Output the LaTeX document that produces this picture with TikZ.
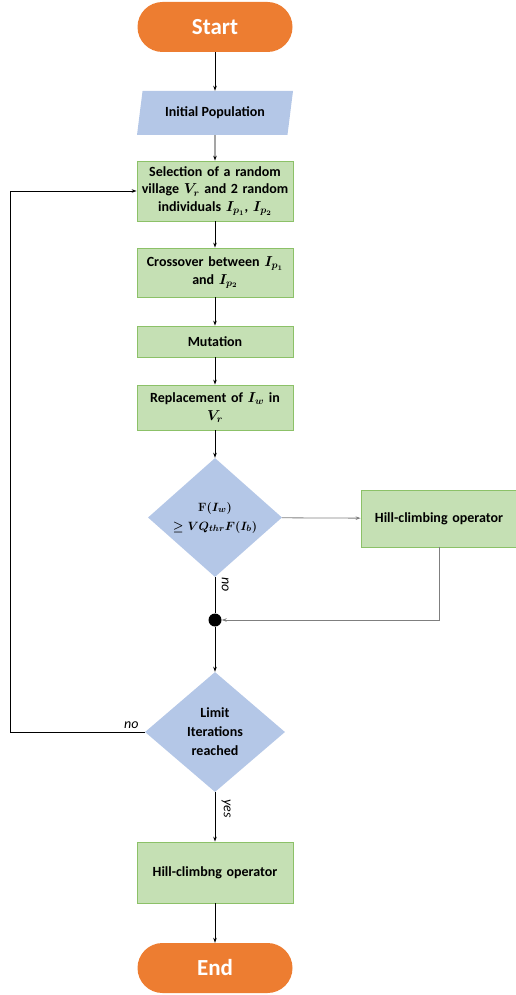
\documentclass[tikz,border=0pt]{standalone}
\usepackage{fontspec}
\setmainfont{Carlito}
\usepackage{amsmath}
\usetikzlibrary{shapes.geometric,arrows.meta}
\definecolor{orng}{HTML}{ED7D31}
\definecolor{blu}{HTML}{B4C7E7}
\definecolor{grn}{HTML}{C5E0B4}
\definecolor{grnb}{HTML}{8CC168}
\definecolor{lgray}{HTML}{7F7F7F}
\begin{document}
\begin{tikzpicture}[x=1pt,y=-1pt,
  term/.style={rectangle, rounded corners=25pt, fill=orng, text=white, minimum width=155pt, minimum height=50pt, font=\bfseries\fontsize{23}{26}\selectfont},
  io/.style={trapezium, trapezium left angle=73.5, trapezium right angle=106.5, trapezium stretches body, fill=blu, minimum width=156pt, minimum height=44pt, font=\bfseries\fontsize{14}{17}\selectfont},
  proc/.style={rectangle, fill=grn, draw=grnb, line width=0.8pt, minimum width=156pt, text width=154pt, align=center, inner sep=1pt, font=\bfseries\boldmath\fontsize{14}{17.5}\selectfont},
  dec/.style={diamond, fill=blu, inner sep=0pt, align=center, font=\bfseries\boldmath\fontsize{14}{19}\selectfont},
  arr/.style={draw=black, line width=0.8pt, -{Stealth[length=5pt,width=3.5pt]}},
  lab/.style={font=\itshape\fontsize{14}{17}\selectfont}
]
\useasboundingbox (0,0) rectangle (516,995);
\node[term] (start) at (215,27) {Start};
\node[io] (init) at (215,113) {Initial Population};
\node[proc, minimum height=60pt] (sel) at (215,191) {Selection of a random\\village $V_r$ and 2 random\\individuals $I_{p_1}$, $I_{p_2}$};
\node[proc, minimum height=49pt] (cross) at (215,272.5) {Crossover between $I_{p_1}$\\and $I_{p_2}$};
\node[proc, minimum height=31pt] (mut) at (215,341.5) {Mutation};
\node[proc, minimum height=45pt] (repl) at (215,407.5) {Replacement of $I_w$ in\\$V_r$};
\node[dec, shape aspect=1.126, minimum width=134pt, minimum height=119pt, font=\bfseries\boldmath\fontsize{13}{19}\selectfont] (d1) at (215,517.5) {$\mathbf{F}(I_w)$\\$\geq VQ_{thr}F(I_b)$};
\node[proc, minimum width=154pt, minimum height=57pt] (hc1) at (439,518.5) {Hill-climbing operator};
\node[circle, fill=black, minimum size=13pt, inner sep=0pt] (dot) at (215,620) {};
\node[dec, shape aspect=1.167, minimum width=140pt, minimum height=120pt] (d2) at (215,732) {Limit\\Iterations\\reached};
\node[proc, minimum height=61pt] (hc2) at (215,872.5) {Hill-climbng operator};
\node[term] (end) at (215,968) {End};
\coordinate (lb) at (10,732);

\draw[arr] (start) -- (init);
\draw[arr] (init) -- (sel);
\draw[arr] (sel) -- (cross);
\draw[arr] (cross) -- (mut);
\draw[arr] (mut) -- (repl);
\draw[arr] (repl) -- (d1);
\draw[arr, draw=lgray] (d1) -- (hc1);
\draw[line width=0.8pt] (d1) -- node[lab, rotate=-90, anchor=south, pos=0.2, yshift=3pt] {no} (dot);
\draw[arr, draw=lgray] (hc1.south) |- (dot);
\draw[arr] (dot) -- (d2);
\draw[arr] (d2.west) -- node[lab, above, pos=0.1] {no} (lb) |- (sel.west);
\draw[arr] (d2) -- node[lab, rotate=-90, anchor=south, pos=0.33, yshift=3pt] {yes} (hc2);
\draw[arr] (hc2) -- (end);
\end{tikzpicture}
\end{document}
